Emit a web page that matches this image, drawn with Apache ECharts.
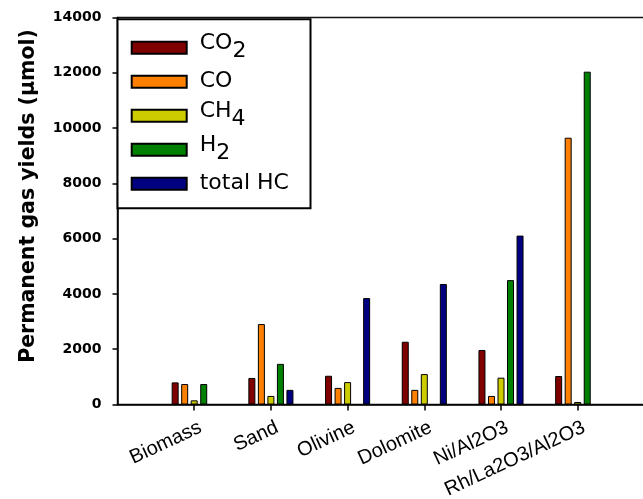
<!DOCTYPE html>
<html><head><meta charset="utf-8">
<script src="https://cdn.jsdelivr.net/npm/echarts@6/dist/echarts.min.js"></script>
<style>html,body{margin:0;padding:0;background:#fff}#c{width:643px;height:499px}</style>
</head><body><div id="c"></div>
<script>
// Data
const categories = ['Biomass', 'Sand', 'Olivine', 'Dolomite', 'Ni/Al2O3', 'Rh/La2O3/Al2O3'];
const co2 = [800, 960, 1040, 2270, 1970, 1030];
const co = [740, 2910, 600, 530, 310, 9650];
const ch4 = [150, 310, 810, 1100, 970, 90];
const h2 = [740, 1470, null, null, 4500, 12040];
const totalHC = [null, 530, 3850, 4360, 6110, null];
const seriesNames = ['CO2', 'CO', 'CH4', 'H2', 'total HC'];
const yMin = 0, yMax = 14000, yStep = 2000;

// padded category axis (empty slot before and after)
const cats = [''].concat(categories, ['']);
const pad = arr => [null].concat(arr, [null]);

const colors = ['#800000', '#FF8000', '#CCCC00', '#008000', '#000080'];
const seriesData = [co2, co, ch4, h2, totalHC];

const legendLabels = {
  'CO2': '{m|CO}{s|2}',
  'CO': '{p|CO}',
  'CH4': '{m|CH}{s|4}',
  'H2': '{m|H}{s|2}',
  'total HC': '{p|total HC}'
};

const chart = echarts.init(document.getElementById('c'), null, {renderer: 'canvas'});
chart.setOption({
  animation: false,
  backgroundColor: '#fff',
  grid: {
    left: 117.5, top: 17.5, width: 536.9, height: 387,
    outerBoundsMode: 'none', containLabel: false,
    show: true, borderColor: '#111', borderWidth: 1.5, backgroundColor: 'transparent'
  },
  legend: {
    orient: 'vertical',
    left: 117.5, top: 19.3,
    padding: [13.4, 21.6, 9.6, 13.2],
    itemGap: 4,
    itemWidth: 55, itemHeight: 12,
    icon: 'rect',
    backgroundColor: '#fff',
    borderColor: '#000', borderWidth: 2,
    data: seriesNames,
    formatter: name => legendLabels[name],
    textStyle: {
      color: '#000',
      rich: {
        m: {fontFamily: 'DejaVu Sans', fontSize: 22, lineHeight: 22, color: '#000', padding: [0, 0, 8, 8]},
        s: {fontFamily: 'DejaVu Sans', fontSize: 22, lineHeight: 22, color: '#000', padding: [8, 0, 0, 0]},
        p: {fontFamily: 'DejaVu Sans', fontSize: 22, lineHeight: 22, color: '#000', padding: [4, 0, 4, 8]}
      }
    }
  },
  xAxis: {
    type: 'category',
    data: cats,
    boundaryGap: false,
    axisLine: {lineStyle: {color: '#000', width: 1.5}},
    axisTick: {
      length: 6, lineStyle: {color: '#000', width: 1.5},
      interval: (i, v) => v !== ''
    },
    axisLabel: {
      rotate: 25, margin: 25, interval: 0,
      padding: [0, -7, 0, 0],
      fontFamily: 'Liberation Sans', fontSize: 20, color: '#000'
    },
    splitLine: {show: false}
  },
  yAxis: {
    type: 'value',
    min: yMin, max: yMax, interval: yStep,
    name: 'Permanent gas yields (µmol)',
    nameLocation: 'middle', nameGap: 78,
    nameTextStyle: {fontFamily: 'DejaVu Sans', fontWeight: 'bold', fontSize: 20.5, color: '#000', padding: [0, 0, 0, 30]},
    axisLine: {show: true, lineStyle: {color: '#000', width: 1.5}},
    axisTick: {show: true, length: 5, lineStyle: {color: '#000', width: 1.5}},
    axisLabel: {margin: 16, fontFamily: 'DejaVu Sans', fontWeight: 'bold', fontSize: 14, color: '#000',
      formatter: v => String(v)},
    splitLine: {show: false}
  },
  series: seriesNames.map((n, i) => ({
    name: n,
    type: 'bar',
    data: pad(seriesData[i]),
    barWidth: 7,
    barGap: '36%',
    itemStyle: {color: colors[i], borderColor: '#000', borderWidth: 1}
  }))
});
</script>
</body></html>
